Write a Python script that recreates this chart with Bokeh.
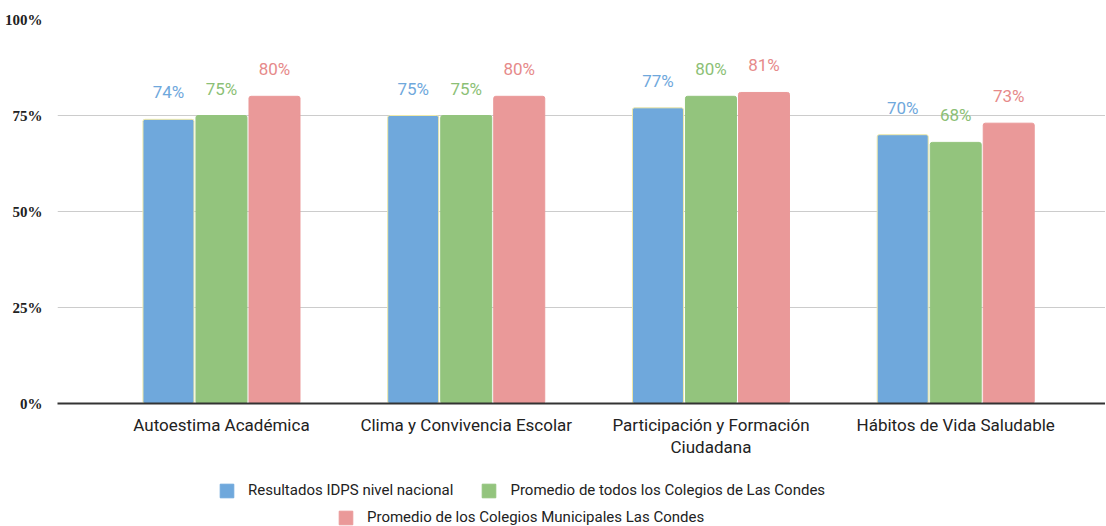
from bokeh.plotting import figure
from bokeh.layouts import column
from bokeh.models import ColumnDataSource, Range1d, FixedTicker, Legend, LegendItem
from bokeh.embed import file_html
from bokeh.resources import INLINE
from bokeh.core.properties import value

categories = ["Autoestima Académica", "Clima y Convivencia Escolar",
              "Participación y Formación\nCiudadana", "Hábitos de Vida Saludable"]
series_names = ["Resultados IDPS nivel nacional",
                "Promedio de todos los Colegios de Las Condes",
                "Promedio de los Colegios Municipales Las Condes"]
nacional = [74, 75, 77, 70]
todos = [75, 75, 80, 68]
municipales = [80, 80, 81, 73]
y_ticks = [0, 25, 50, 75, 100]
y_tick_labels = ["0%", "25%", "50%", "75%", "100%"]

colors = ["#6fa8dc", "#93c47d", "#ea9999"]
label_colors = ["#6fa8dc", "#8cbf76", "#e68a8a"]
outline_colors = ["#efe9a8", None, None]

FONT = "Roboto"
bar_w = 0.2084
offsets = [-0.2166, 0.0, 0.2166]

p = figure(frame_width=1048, frame_height=384,
           x_range=Range1d(-0.670, 3.612), y_range=Range1d(0, 100),
           output_backend="svg", toolbar_location=None,
           min_border_left=57, min_border_right=0, min_border_top=19,
           min_border_bottom=70)
p.outline_line_color = None
p.background_fill_color = "white"

xs = list(range(len(categories)))
renderers = []
for s, vals in enumerate([nacional, todos, municipales]):
    src = ColumnDataSource(dict(
        x=[x + offsets[s] for x in xs], top=vals,
        lab=[f"{v}%" for v in vals]))
    r = p.vbar(x="x", top="top", width=bar_w, source=src,
               fill_color=colors[s],
               line_color=outline_colors[s] if outline_colors[s] else colors[s],
               line_width=1, border_radius=2)
    renderers.append(r)
    p.text(x="x", y="top", text="lab", source=src,
           text_font=value(FONT), text_font_size="17px",
           text_color=label_colors[s], text_align="center",
           text_baseline="middle", y_offset=-27)

# axes
p.yaxis.ticker = FixedTicker(ticks=y_ticks)
p.yaxis.major_label_overrides = {t: l for t, l in zip(y_ticks, y_tick_labels)}
p.yaxis.major_label_text_font = "Liberation Serif"
p.yaxis.major_label_text_font_style = "bold"
p.yaxis.major_label_text_font_size = "15px"
p.yaxis.major_label_text_color = "#222222"
p.yaxis.axis_line_color = None
p.yaxis.major_tick_line_color = None
p.yaxis.minor_tick_line_color = None
p.yaxis.major_label_standoff = 9

p.xaxis.ticker = FixedTicker(ticks=xs)
p.xaxis.major_label_overrides = {x: c for x, c in zip(xs, categories)}
p.xaxis.major_label_text_font = FONT
p.xaxis.major_label_text_font_size = "17px"
p.xaxis.major_label_text_line_height = 1.1
p.xaxis.major_label_text_color = "#222222"
p.xaxis.axis_line_color = "#333333"
p.xaxis.axis_line_width = 2
p.xaxis.major_tick_line_color = None
p.xaxis.minor_tick_line_color = None
p.xaxis.major_label_standoff = 5

p.xgrid.grid_line_color = None
p.ygrid.grid_line_color = "#cccccc"
p.ygrid.grid_line_width = 1

# legend strip below the chart (swatch renderers sit outside its visible range)
lp = figure(width=1105, height=53, x_range=Range1d(0, 1), y_range=Range1d(0, 1),
            x_axis_type=None, y_axis_type=None, output_backend="svg",
            toolbar_location=None, min_border=0)
lp.outline_line_color = None
swatches = [lp.vbar(x=[5], top=[1], width=0.1, fill_color=c, line_color=c)
            for c in colors]

def make_legend(items, loc):
    return Legend(items=items, orientation="horizontal", location=loc,
                  margin=0, padding=0, spacing=27, label_standoff=13,
                  glyph_width=17, glyph_height=17,
                  label_text_font=FONT, label_text_font_size="15px",
                  label_text_color="#222222", border_line_color=None,
                  background_fill_alpha=0)

leg1 = make_legend([LegendItem(label=series_names[0], renderers=[swatches[0]]),
                    LegendItem(label=series_names[1], renderers=[swatches[1]])],
                   (161, 27))
leg2 = make_legend([LegendItem(label=series_names[2], renderers=[swatches[2]])],
                   (280, 0))
lp.add_layout(leg1, "center")
lp.add_layout(leg2, "center")

layout = column(p, lp, spacing=0)
open("out.html", "w").write(file_html(layout, INLINE))
